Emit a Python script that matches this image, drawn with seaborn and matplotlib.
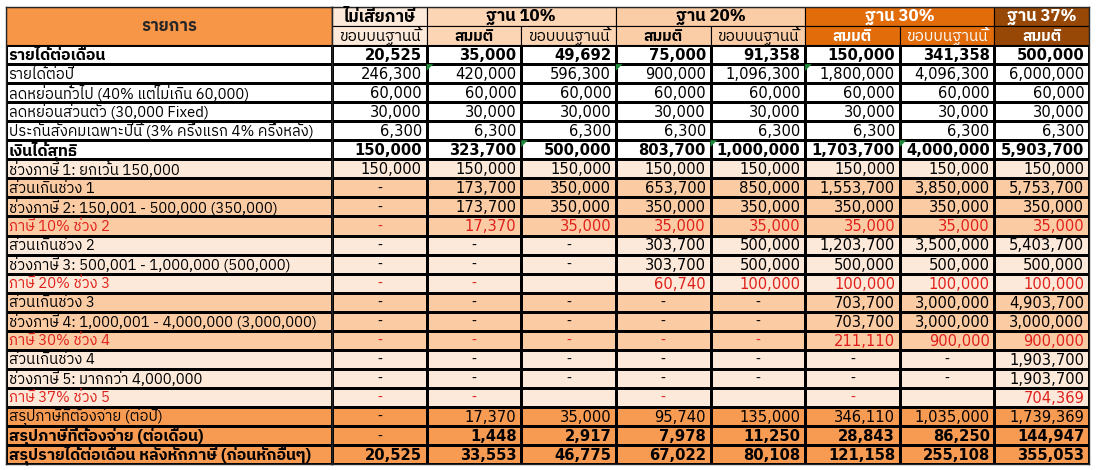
import numpy as np
import matplotlib
matplotlib.use('Agg')
import matplotlib.pyplot as plt
from matplotlib.colors import ListedColormap
from matplotlib.patches import Rectangle, Polygon
from matplotlib import font_manager as fm
from matplotlib.ft2font import FT2Font
import seaborn as sns

#  table data
row_labels = [
    'รายได้ต่อเดือน', 'รายได้ต่อปี', 'ลดหย่อนทั่วไป (40% แต่ไม่เกิน 60,000)',
    'ลดหย่อนส่วนตัว (30,000 Fixed)', 'ประกันสังคมเฉพาะปีนี้ (3% ครึ่งแรก 4% ครึ่งหลัง)',
    'เงินได้สุทธิ', 'ช่วงภาษี 1: ยกเว้น 150,000', 'ส่วนเกินช่วง 1',
    'ช่วงภาษี 2: 150,001 - 500,000 (350,000)', 'ภาษี 10% ช่วง 2', 'ส่วนเกินช่วง 2',
    'ช่วงภาษี 3: 500,001 - 1,000,000 (500,000)', 'ภาษี 20% ช่วง 3', 'ส่วนเกินช่วง 3',
    'ช่วงภาษี 4: 1,000,001 - 4,000,000 (3,000,000)', 'ภาษี 30% ช่วง 4', 'ส่วนเกินช่วง 4',
    'ช่วงภาษี 5: มากกว่า 4,000,000', 'ภาษี 37% ช่วง 5', 'สรุปภาษีที่ต้องจ่าย (ต่อปี)',
    'สรุปภาษีที่ต้องจ่าย (ต่อเดือน)', 'สรุปรายได้ต่อเดือน หลังหักภาษี (ก่อนหักอื่นๆ)',
]
group_labels = ['ไม่เสียภาษี', 'ฐาน 10%', 'ฐาน 20%', 'ฐาน 30%', 'ฐาน 37%']
group_spans = [1, 2, 2, 2, 1]
sub_labels = ['ขอบบนฐานนี้', 'สมมติ', 'ขอบบนฐานนี้', 'สมมติ', 'ขอบบนฐานนี้',
              'สมมติ', 'ขอบบนฐานนี้', 'สมมติ']

#  None = "-" , '' = empty cell
values = [
    [20525, 35000, 49692, 75000, 91358, 150000, 341358, 500000],
    [246300, 420000, 596300, 900000, 1096300, 1800000, 4096300, 6000000],
    [60000] * 8,
    [30000] * 8,
    [6300] * 8,
    [150000, 323700, 500000, 803700, 1000000, 1703700, 4000000, 5903700],
    [150000] * 8,
    [None, 173700, 350000, 653700, 850000, 1553700, 3850000, 5753700],
    [None, 173700, 350000, 350000, 350000, 350000, 350000, 350000],
    [None, 17370, 35000, 35000, 35000, 35000, 35000, 35000],
    [None, None, None, 303700, 500000, 1203700, 3500000, 5403700],
    [None, None, None, 303700, 500000, 500000, 500000, 500000],
    [None, None, '', 60740, 100000, 100000, 100000, 100000],
    [None, None, None, None, None, 703700, 3000000, 4903700],
    [None, None, None, None, None, 703700, 3000000, 3000000],
    [None, None, None, None, None, 211110, 900000, 900000],
    [None, None, None, None, None, None, None, 1903700],
    [None, None, None, None, None, None, None, 1903700],
    [None, None, '', None, '', None, '', 704369],
    [None, 17370, 35000, 95740, 135000, 346110, 1035000, 1739369],
    [None, 1448, 2917, 7978, 11250, 28843, 86250, 144947],
    [20525, 33553, 46775, 67022, 80108, 121158, 255108, 355053],
]

#  cells with the little green excel flag (row, col)
flagged = [(1, 1), (1, 3), (1, 5), (5, 2), (5, 4), (5, 6)]

#  row shading: 0 white, 1 light peach, 2 peach, 3 orange
row_shade = [0, 0, 0, 0, 0, 0, 1, 2, 2, 2, 1, 1, 1, 2, 2, 2, 1, 1, 1, 3, 3, 3]
bold_rows = [0, 5, 20, 21]
red_rows = [9, 12, 15, 18]

shade_colors = ['#FFFFFF', '#FDE9D9', '#FBCBA3', '#F79A52']
group_colors = ['#FDE9D9', '#FCD5B4', '#FBCDA6', '#E26B0A', '#974706']
group_text = ['black', 'black', 'black', 'white', 'white']

#  find a font that has Thai glyphs
thai_font = None
for f in fm.fontManager.ttflist:
    try:
        if ord('ร') in FT2Font(f.fname).get_charmap():
            thai_font = f.name
            if 'Tahoma' in f.name or 'Sans' in f.name:
                break
    except Exception:
        pass
families = [thai_font, 'DejaVu Sans'] if thai_font else ['DejaVu Sans']

sns.set_style('white')
plt.rcParams['font.family'] = families

n_rows = len(row_labels)
shade = np.array([[s] * 8 for s in row_shade])
cmap = ListedColormap(shade_colors)

fig = plt.figure(figsize=(11, 4.7), dpi=100)
top = 1 - 7 / 470
bot = 1 - 464 / 470
axL = fig.add_axes([6 / 1100, bot, 326 / 1100, top - bot])
axR = fig.add_axes([332 / 1100, bot, 757 / 1100, top - bot])

sns.heatmap(shade[:, :1], cmap=cmap, vmin=-0.5, vmax=3.5, cbar=False,
            linewidths=0.8, linecolor='black', ax=axL)
sns.heatmap(shade, cmap=cmap, vmin=-0.5, vmax=3.5, cbar=False,
            linewidths=0.8, linecolor='black', ax=axR)

for ax, ncol in [(axL, 1), (axR, 8)]:
    ax.set_ylim(n_rows, -2)
    ax.set_xlim(0, ncol)
    ax.set_xticks([])
    ax.set_yticks([])
    for s in ax.spines.values():
        s.set_visible(True)
        s.set_linewidth(1.0)

#  header cells
axL.add_patch(Rectangle((0, -2), 1, 2, facecolor='#F79646', edgecolor='black', lw=0.8))
axL.text(0.5, -1, 'รายการ', ha='center', va='center', fontsize=12, fontweight='bold')

col = 0
for g, span in enumerate(group_spans):
    axR.add_patch(Rectangle((col, -2), span, 1, facecolor=group_colors[g],
                            edgecolor='black', lw=0.8))
    axR.text(col + span / 2, -1.45, group_labels[g], ha='center', va='center',
             fontsize=12, fontweight='bold', color=group_text[g])
    for c in range(col, col + span):
        axR.add_patch(Rectangle((c, -1), 1, 1, facecolor=group_colors[g],
                                edgecolor='black', lw=0.8))
        italic = sub_labels[c] == 'ขอบบนฐานนี้'
        axR.text(c + 0.5, -0.45, sub_labels[c], ha='center', va='center',
                 fontsize=11, fontstyle='italic' if italic else 'normal',
                 fontweight='normal' if italic else 'bold', color=group_text[g])
    col += span

#  row labels and values
num_font = ['DejaVu Sans']
for i, label in enumerate(row_labels):
    bold = i in bold_rows
    red = i in red_rows
    tc = '#E0201A' if red else 'black'
    axL.text(0.008, i + 0.55, label, ha='left', va='center', color=tc,
             fontsize=11.5 if bold else 10.7, fontweight='bold' if bold else 'normal')
    for j, v in enumerate(values[i]):
        if v == '':
            continue
        if v is None:
            axR.text(j + 0.5, i + 0.55, '-', ha='center', va='center', color=tc,
                     fontsize=10, family=num_font)
        else:
            axR.text(j + 0.95, i + 0.55, f'{v:,}', ha='right', va='center', color=tc,
                     family=num_font, fontsize=10.6,
                     fontweight='bold' if bold else 'normal')

#  green excel flags in the top-left corner of some cells
for r, c in flagged:
    axR.add_patch(Polygon([(c, r), (c + 0.07, r), (c, r + 0.35)], closed=True,
                          facecolor='#1E8C3A', edgecolor='none'))

fig.savefig('out.png', dpi=100)
